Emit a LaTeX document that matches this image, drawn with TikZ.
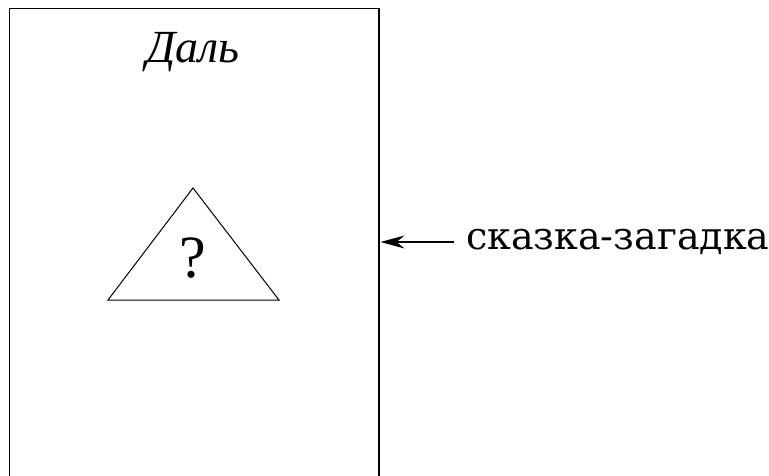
\documentclass[tikz,border=0pt]{standalone}
\usepackage{fontspec}
\setmainfont{Liberation Serif}
\newfontfamily\labelfont{DejaVu Serif}
\usetikzlibrary{arrows.meta}
\begin{document}
\begin{tikzpicture}[x=1pt,y=-1pt,
  frame/.style={draw,line width=1.4pt},
  tri/.style={draw,line width=1pt},
  conn/.style={draw,line width=1.2pt,-{Stealth[length=24pt,width=13pt,inset=8pt]}}]
\useasboundingbox (0,0) rectangle (769,476);
\begin{scope}
\clip (0,0) rectangle (769,476);
\draw[frame] (9.5,8.5) rectangle (379,500);
\end{scope}
\coordinate (edge) at (380.5,242);
\node[font=\fontsize{46}{50}\selectfont\itshape] (title) at (193,52) {Даль};
\coordinate (apex) at (193,188);
\coordinate (bl) at (108,300);
\coordinate (br) at (279,300);
\draw[tri] (apex) -- (bl) -- (br) -- cycle;
\node[font=\fontsize{60}{64}\selectfont] (q) at (193,258) {?};
\node[font=\fontsize{38}{42}\labelfont,anchor=west,inner sep=0pt] (lbl) at (466,242) {сказка-загадка};
\draw[conn] (lbl.west) ++(-12,0) coordinate (s) (s) -- (edge);
\end{tikzpicture}
\end{document}
